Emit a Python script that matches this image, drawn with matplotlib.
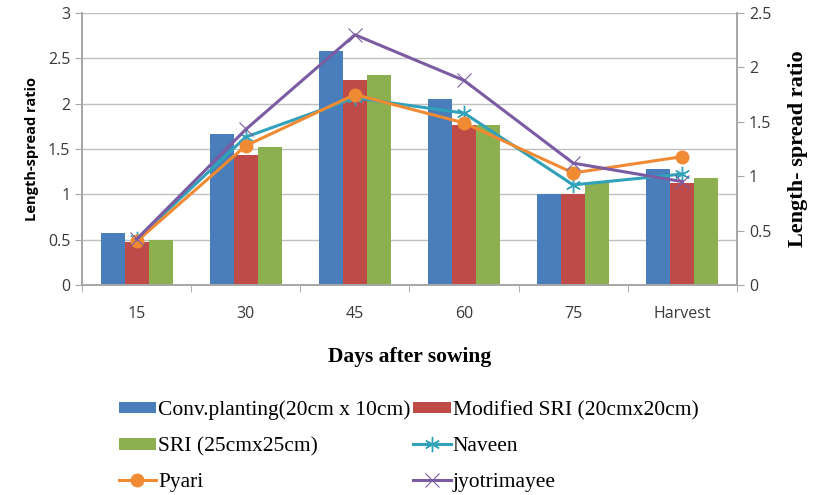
import matplotlib
matplotlib.use("Agg")
import matplotlib.pyplot as plt
import numpy as np

categories = ["15", "30", "45", "60", "75", "Harvest"]
conv = [0.57, 1.67, 2.58, 2.05, 1.00, 1.28]
modified = [0.47, 1.43, 2.26, 1.77, 1.00, 1.12]
sri = [0.50, 1.52, 2.32, 1.77, 1.13, 1.18]
naveen = [0.42, 1.36, 1.72, 1.58, 0.92, 1.02]
pyari = [0.40, 1.28, 1.75, 1.49, 1.03, 1.18]
jyotrimayee = [0.42, 1.43, 2.30, 1.88, 1.12, 0.95]

bar_names = ["Conv.planting(20cm x 10cm)", "Modified SRI (20cmx20cm)", "SRI (25cmx25cm)"]
line_names = ["Naveen", "Pyari", "jyotrimayee"]

c_blue, c_red, c_green = "#4A7EBB", "#BE4B48", "#8CAF50"
c_teal, c_orange, c_purple = "#31A2B9", "#F08A33", "#7B5BA1"
grid_c = "#BFBFBF"
spine_c = "#A6A6A6"
tick_font = "Open Sans"
serif = "Liberation Serif"

fig = plt.figure(figsize=(8.14, 4.95), dpi=100)
ax = fig.add_axes([82/814, 1-285/495, (737-82)/814, (285-13)/495])
ax2 = ax.twinx()

x = np.arange(len(categories))
w = 0.22
b1 = ax.bar(x - w, conv, w, color=c_blue, zorder=2)
b2 = ax.bar(x, modified, w, color=c_red, zorder=2)
b3 = ax.bar(x + w, sri, w, color=c_green, zorder=2)

l1, = ax2.plot(x, naveen, color=c_teal, lw=2.2, marker=(6, 2, 0), ms=11, mew=1.0)
l2, = ax2.plot(x, pyari, color=c_orange, lw=2.2, marker="o", ms=9)
l3, = ax2.plot(x, jyotrimayee, color=c_purple, lw=2.2, marker="x", ms=10, mew=0.8)

ax.set_xlim(-0.5, len(categories) - 0.5)
ax.set_ylim(0, 3)
ax2.set_ylim(0, 2.5)
ax.set_yticks(np.arange(0, 3.01, 0.5))
ax.set_yticklabels(["0", "0.5", "1", "1.5", "2", "2.5", "3"])
ax2.set_yticks(np.arange(0, 2.51, 0.5))
ax2.set_yticklabels(["0", "0.5", "1", "1.5", "2", "2.5"])
ax.grid(axis="y", color=grid_c, lw=1.0, zorder=0)
ax.set_axisbelow(True)

ax.set_xticks(x)
ax.set_xticklabels(categories, fontfamily=tick_font, fontsize=11.5, color="#3A3A3A")
ax.set_xticks(np.arange(-0.5, len(categories), 1.0), minor=True)
ax.tick_params(axis="x", which="major", length=0, pad=15)
ax.tick_params(axis="x", which="minor", length=5, color=spine_c, direction="out")
ax.tick_params(axis="y", length=5, color=spine_c, labelsize=11.5, labelcolor="#3A3A3A")
ax2.tick_params(axis="y", length=5, color=spine_c, labelsize=11.5, labelcolor="#3A3A3A")
for lab in ax.get_yticklabels() + ax2.get_yticklabels():
    lab.set_fontfamily(tick_font)

for a in (ax, ax2):
    a.spines["top"].set_visible(False)
    for s in ("left", "right", "bottom"):
        a.spines[s].set_color(spine_c)
        a.spines[s].set_linewidth(1.2)

ax.set_ylabel("Length-spread ratio", fontfamily=tick_font, fontweight="bold", fontsize=10.5, labelpad=6)
ax2.set_ylabel("Length- spread ratio", fontfamily=serif, fontweight="bold", fontsize=16, labelpad=12)
ax.set_xlabel("Days after sowing", fontfamily=serif, fontweight="bold", fontsize=15.5, labelpad=18)

handles = [b1, b3, l2, b2, l1, l3]
labels = [bar_names[0], bar_names[2], line_names[1], bar_names[1], line_names[0], line_names[2]]
fig.legend(handles, labels, ncol=2, loc="upper left", bbox_to_anchor=(110/814, 1-392/495),
           frameon=False, prop={"family": serif, "size": 15.5}, handlelength=1.75, handleheight=0.45,
           handletextpad=0.1, columnspacing=0.1, labelspacing=0.78, borderaxespad=0)

fig.savefig("out.png", dpi=100)
